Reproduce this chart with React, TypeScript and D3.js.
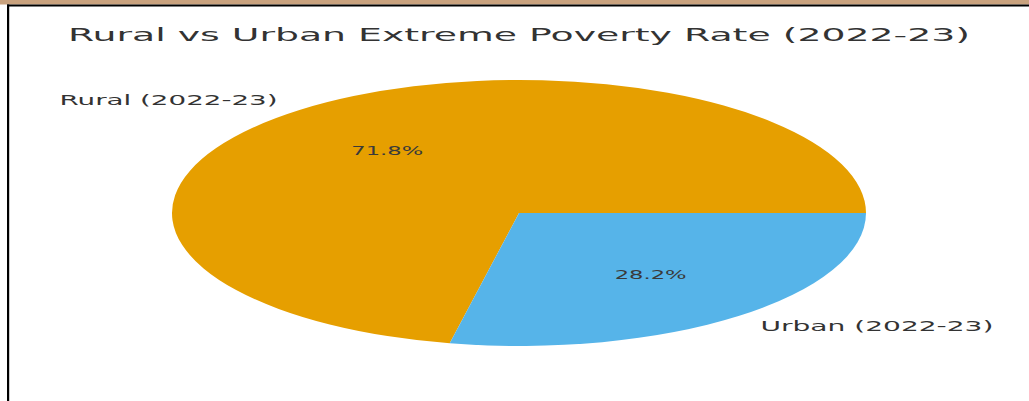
import React from "react";
import * as d3 from "d3";

const categories = ["Rural (2022-23)", "Urban (2022-23)"];
const values = [71.8, 28.2];
const colors = ["#E69F00", "#56B4E9"];
const title = "Rural vs Urban Extreme Poverty Rate (2022-23)";

const W = 1029;
const H = 401;
const cx = 519;
const cy = 213;
const rx = 347;
const ry = 133;

export default function App() {
  const pie = d3
    .pie<number>()
    .sort(null)
    .value((d) => d)
    .startAngle(Math.PI / 2)
    .endAngle(Math.PI / 2 - 2 * Math.PI);
  const arcs = pie(values);
  const arc = d3.arc<d3.PieArcDatum<number>>().innerRadius(0).outerRadius(100);
  const total = d3.sum(values);
  const labelW = [218, 233];

  return (
    <svg
      width={W}
      height={H}
      style={{ position: "absolute", left: 0, top: 0, background: "#fff" }}
      fontFamily="DejaVu Sans, sans-serif"
    >
      <rect x={0} y={0} width={W} height={H} fill="#fff" />
      <rect x={0} y={0} width={W} height={4.5} fill="#C9A27E" />
      <rect x={7} y={4.5} width={W - 7} height={2} fill="#000" />
      <rect x={7} y={4.5} width={2.2} height={H} fill="#000" />
      <text
        x={cx}
        y={41}
        textAnchor="middle"
        fontSize={18}
        fill="#333"
        textLength={902}
        lengthAdjust="spacingAndGlyphs"
      >
        {title}
      </text>
      <g transform={`translate(${cx},${cy}) scale(${rx / 100},${ry / 100})`}>
        {arcs.map((a, i) => (
          <path key={i} d={arc(a) || ""} fill={colors[i]} />
        ))}
      </g>
      {arcs.map((a, i) => {
        const mid = (a.startAngle + a.endAngle) / 2;
        const sx = Math.sin(mid);
        const sy = -Math.cos(mid);
        const lx = cx + 1.1 * rx * sx;
        const ly = cy + 1.1 * ry * sy;
        const px = cx + 0.6 * rx * sx;
        const py = cy + 0.6 * ry * sy;
        const pct = ((values[i] / total) * 100).toFixed(1) + "%";
        return (
          <g key={i}>
            <text
              x={lx}
              y={ly}
              dy="0.36em"
              textAnchor={sx > 0 ? "start" : "end"}
              fontSize={14}
              fill="#333"
              textLength={labelW[i]}
              lengthAdjust="spacingAndGlyphs"
            >
              {categories[i]}
            </text>
            <text
              x={px}
              y={py}
              dy="0.36em"
              textAnchor="middle"
              fontSize={11.5}
              fill="#3a3a3a"
              textLength={72}
              lengthAdjust="spacingAndGlyphs"
            >
              {pct}
            </text>
          </g>
        );
      })}
    </svg>
  );
}
